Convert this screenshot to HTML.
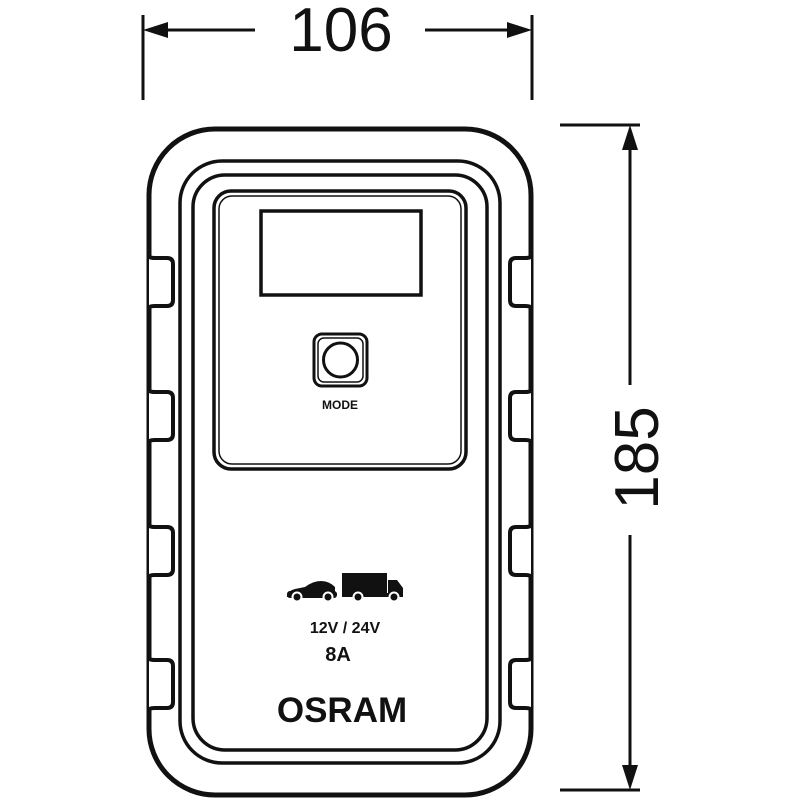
<!DOCTYPE html>
<html><head><style>body{margin:0;background:#fff}svg{display:block}</style></head><body>
<svg width="800" height="800" viewBox="0 0 800 800" xmlns="http://www.w3.org/2000/svg">
<g fill="none" stroke="#111">
<line x1="143" y1="15" x2="143" y2="100" stroke-width="3"/>
<line x1="532" y1="15" x2="532" y2="100" stroke-width="3"/>
<line x1="150" y1="30" x2="255" y2="30" stroke-width="3"/>
<line x1="425" y1="30" x2="525" y2="30" stroke-width="3"/>
<line x1="560" y1="125" x2="640" y2="125" stroke-width="3"/>
<line x1="560" y1="790" x2="640" y2="790" stroke-width="3"/>
<line x1="630" y1="132" x2="630" y2="385" stroke-width="3"/>
<line x1="630" y1="535" x2="630" y2="783" stroke-width="3"/>
<rect x="149" y="129" width="382" height="666" rx="66" stroke-width="5"/>
<rect x="180" y="161" width="320" height="602" rx="42" stroke-width="3.5"/>
<rect x="193" y="175" width="294" height="575" rx="32" stroke-width="3.5"/>
<rect x="214" y="191" width="252" height="278" rx="17" stroke-width="3.5"/>
<rect x="219" y="196" width="242" height="268" rx="13" stroke-width="1.5"/>
<rect x="261" y="211" width="160" height="84" stroke-width="3.5"/>
<rect x="314" y="334" width="53" height="52" rx="8" stroke-width="3"/>
<rect x="318" y="338" width="45" height="44" rx="6" stroke-width="1.5"/>
<circle cx="340.5" cy="360" r="17" stroke-width="3"/>
</g>
<g fill="#fff" stroke="#111" stroke-width="4">
<path d="M149 256 q0 2 6 2 h12 q6 0 6 6 v36 q0 6 -6 6 h-12 q-6 0 -6 2"/>
<path d="M149 390 q0 2 6 2 h12 q6 0 6 6 v36 q0 6 -6 6 h-12 q-6 0 -6 2"/>
<path d="M149 525 q0 2 6 2 h12 q6 0 6 6 v36 q0 6 -6 6 h-12 q-6 0 -6 2"/>
<path d="M149 658 q0 2 6 2 h12 q6 0 6 6 v36 q0 6 -6 6 h-12 q-6 0 -6 2"/>
<path d="M531 256 q0 2 -6 2 h-9 q-6 0 -6 6 v36 q0 6 6 6 h9 q6 0 6 2"/>
<path d="M531 390 q0 2 -6 2 h-9 q-6 0 -6 6 v36 q0 6 6 6 h9 q6 0 6 2"/>
<path d="M531 525 q0 2 -6 2 h-9 q-6 0 -6 6 v36 q0 6 6 6 h9 q6 0 6 2"/>
<path d="M531 658 q0 2 -6 2 h-9 q-6 0 -6 6 v36 q0 6 6 6 h9 q6 0 6 2"/>
</g>
<g fill="#111">
<polygon points="143,30 168,22 168,38"/>
<polygon points="532,30 507,22 507,38"/>
<polygon points="630,125 622,150 638,150"/>
<polygon points="630,790 622,765 638,765"/>
<path d="M287 597 q0 -6 8 -8 l10 -2 q8 -6 16 -6 q8 0 14 6 l0 10 z"/>
<rect x="287" y="591" width="50" height="7" rx="3"/>
<circle cx="297" cy="597" r="4.5" stroke="#fff" stroke-width="2"/>
<circle cx="328" cy="597" r="4.5" stroke="#fff" stroke-width="2"/>
<rect x="342" y="573" width="45" height="22"/>
<path d="M388 580 h9 l6 8 v8 h-15 z"/>
<rect x="342" y="593" width="61" height="4"/>
<circle cx="358" cy="597" r="4.5" stroke="#fff" stroke-width="2"/>
<circle cx="394" cy="597" r="4.5" stroke="#fff" stroke-width="2"/>
</g>
<g font-family="Liberation Sans, sans-serif" fill="#111" text-anchor="middle">
<text x="341" y="51" font-size="62">106</text>
<text transform="translate(658,458) rotate(-90)" font-size="62">185</text>
<text x="340" y="409" font-size="12" font-weight="bold">MODE</text>
<text x="345" y="633" font-size="16" font-weight="bold">12V / 24V</text>
<text x="338" y="661" font-size="20" font-weight="bold">8A</text>
<text x="342" y="722" font-size="35" font-weight="bold">OSRAM</text>
</g>
</svg>
</body></html>
